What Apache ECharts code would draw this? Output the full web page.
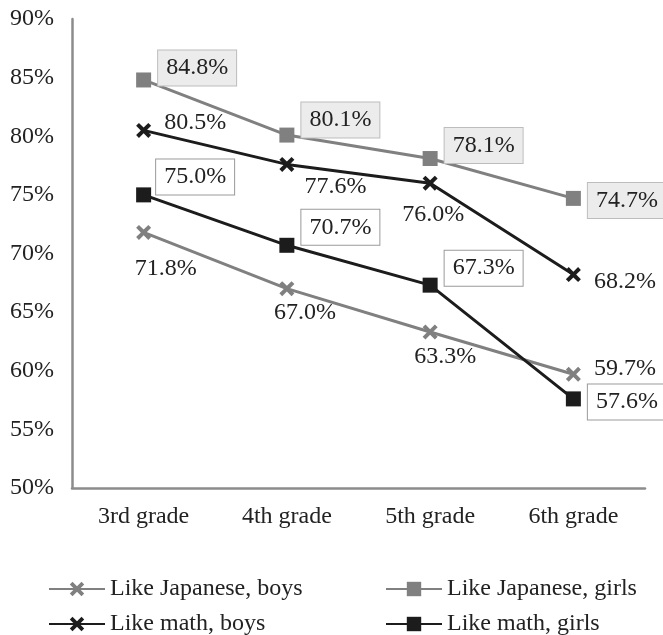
<!DOCTYPE html>
<html lang="en">
<head>
	<meta charset="UTF-8">
	<title>Like Japanese / math by grade</title>
	<style>
		html, body { margin: 0; padding: 0; background: #fff; }
		#chart { width: 663px; height: 635px; }
	</style>
</head>
<body>
	<div id="chart"></div>

	<script src="https://cdn.jsdelivr.net/npm/echarts@6/dist/echarts.min.js"></script>
	<script>
		// data
		var grades = ['3rd grade', '4th grade', '5th grade', '6th grade'];
		var yTicks = [50, 55, 60, 65, 70, 75, 80, 85, 90];
		var jpBoys = [71.8, 67.0, 63.3, 59.7];
		var jpGirls = [84.8, 80.1, 78.1, 74.7];
		var mathBoys = [80.5, 77.6, 76.0, 68.2];
		var mathGirls = [75.0, 70.7, 67.3, 57.6];

		// where each value label sits (position, dx, dy)
		var jpBoysLab = [['bottom', 22, 12], ['bottom', 18, 0], ['bottom', 15, 0], ['right', 8, -6]];
		var jpGirlsLab = [['right', 2, -12], ['right', 2, -15], ['right', 2, -13], ['right', 2, 2]];
		var mathBoysLab = [['right', 8, -8], ['right', 5, 22], ['bottom', 3, 7], ['right', 8, 7]];
		var mathGirlsLab = [['right', 0, -18], ['right', 2, -18], ['right', 2, -17], ['right', 2, 3]];

		var FONT = '"Liberation Serif", "DejaVu Serif", serif';
		var GRAY = '#808080';
		var BLACK = '#1c1c1c';
		// bold x marker
		var X_MARK = 'path://M0,3 L3,0 L8,5 L13,0 L16,3 L11,8 L16,13 L13,16 L8,11 L3,16 L0,13 L5,8 Z';

		function points(vals, labs) {
			return vals.map(function(v, i) {
				return {
					value: v,
					label: { position: labs[i][0], offset: [labs[i][1], labs[i][2]] }
				};
			});
		}

		function makeSeries(name, vals, labs, color, symbol, box) {
			var label = {
				show: true,
				formatter: function(p) { return p.value.toFixed(1) + '%'; },
				fontFamily: FONT,
				fontSize: 24,
				color: '#222'
			};
			if (box) {
				label.backgroundColor = box.bg;
				label.borderColor = box.border;
				label.borderWidth = 1;
				label.padding = [6, 8, 5, 8];
			}
			return {
				name: name,
				type: 'line',
				data: points(vals, labs),
				symbol: symbol,
				symbolSize: 15,
				showSymbol: true,
				lineStyle: { color: color, width: 3 },
				itemStyle: { color: color },
				label: label,
				emphasis: { disabled: true },
				animation: false
			};
		}

		function legendAt(name, left, top) {
			return {
				left: left,
				top: top,
				itemWidth: 56,
				itemHeight: 18,
				textStyle: { fontFamily: FONT, fontSize: 24, color: '#222' },
				data: [name]
			};
		}

		var option = {
			backgroundColor: '#fff',
			grid: { left: 72, right: 18, top: 19, bottom: 147 },
			xAxis: {
				type: 'category',
				data: grades,
				axisLine: { lineStyle: { color: '#8c8c8c', width: 2.5 } },
				axisTick: { show: false },
				axisLabel: { fontFamily: FONT, fontSize: 24, color: '#222', margin: 17 }
			},
			yAxis: {
				type: 'value',
				min: yTicks[0],
				max: yTicks[yTicks.length - 1],
				interval: yTicks[1] - yTicks[0],
				axisLine: { show: true, lineStyle: { color: '#8c8c8c', width: 2.5 } },
				axisTick: { show: false },
				splitLine: { show: false },
				axisLabel: { fontFamily: FONT, fontSize: 24, color: '#222', margin: 18, formatter: '{value}%' }
			},
			legend: [
				legendAt('Like Japanese, boys', 43, 572),
				legendAt('Like math, boys', 43, 607),
				legendAt('Like Japanese, girls', 380, 572),
				legendAt('Like math, girls', 380, 607)
			],
			series: [
				makeSeries('Like Japanese, boys', jpBoys, jpBoysLab, GRAY, X_MARK, null),
				makeSeries('Like Japanese, girls', jpGirls, jpGirlsLab, GRAY, 'rect', { bg: '#ececec', border: '#bdbdbd' }),
				makeSeries('Like math, boys', mathBoys, mathBoysLab, BLACK, X_MARK, null),
				makeSeries('Like math, girls', mathGirls, mathGirlsLab, BLACK, 'rect', { bg: '#fff', border: '#9a9a9a' })
			]
		};

		var myChart = echarts.init(document.getElementById('chart'));
		myChart.setOption(option);
	</script>
</body>
</html>
